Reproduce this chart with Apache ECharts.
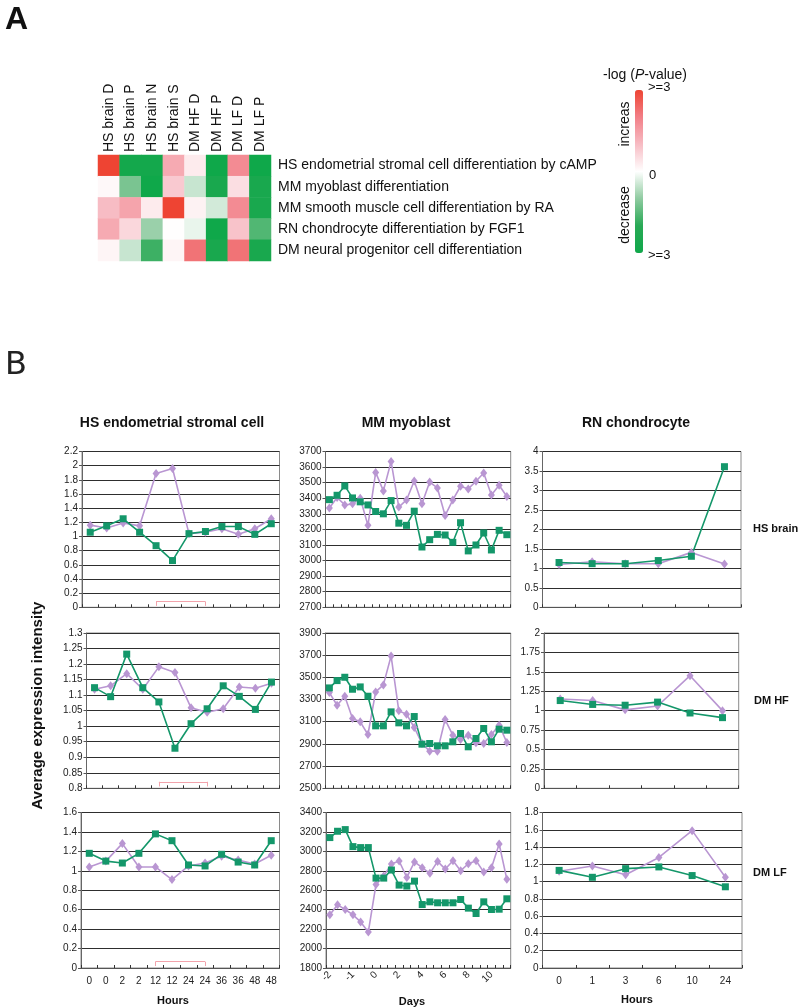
<!DOCTYPE html>
<html><head><meta charset="utf-8">
<script src="https://cdn.jsdelivr.net/npm/echarts@6/dist/echarts.min.js"></script>
<style>html,body{margin:0;padding:0;background:#fff}#c{width:799px;height:1008px}</style>
</head><body><div id="c"></div>
<script>
// ---------- Heatmap (part A) ----------
const hmCols = ['HS brain D','HS brain P','HS brain N','HS brain S','DM HF D','DM HF P','DM LF D','DM LF P'];
const hmRows = ['HS endometrial stromal cell differentiation by cAMP','MM myoblast differentiation','MM smooth muscle cell differentiation by RA','RN chondrocyte differentiation by FGF1','DM neural progenitor cell differentiation'];
const hmRow1 = [3, -2.8, -2.8, 1.3, 0.3, -3, 1.8, -3];
const hmRow2 = [0.1, -1.2, -3, 0.8, -0.5, -2.6, 0.5, -2.6];
const hmRow3 = [1.0, 1.4, 0.3, 3, 0.2, -0.4, 1.8, -2.6];
const hmRow4 = [1.3, 0.6, -0.9, 0.02, -0.2, -3, 0.9, -1.6];
const hmRow5 = [0.15, -0.5, -1.8, 0.15, 2.2, -2.6, 2.2, -2.6];

// ---------- Line panels (part B) ----------
const hoursHS = ['0','0','2','2','12','12','24','24','36','36','48','48'];
const daysMM = ['-2','','','-1','','','0','','','2','','','4','','','6','','','8','','','10','',''];
const hoursRN = ['0','1','3','6','10','24'];

const endoHSbrainGreen  = [1.06,1.15,1.25,1.06,0.87,0.66,1.04,1.07,1.14,1.14,1.03,1.18];
const endoHSbrainPurple = [1.16,1.12,1.19,1.15,1.89,1.96,1.04,1.06,1.11,1.03,1.11,1.25];
const endoDMHFGreen  = [1.124,1.095,1.232,1.124,1.078,0.929,1.008,1.056,1.130,1.096,1.054,1.142];
const endoDMHFPurple = [1.119,1.130,1.169,1.119,1.191,1.173,1.059,1.045,1.056,1.126,1.122,1.138];
const endoDMLFGreen  = [1.18,1.10,1.08,1.18,1.38,1.31,1.06,1.05,1.17,1.09,1.06,1.31];
const endoDMLFPurple = [1.04,1.10,1.28,1.04,1.04,0.91,1.05,1.08,1.15,1.11,1.07,1.16];

const myoHSbrainGreen  = [3391,3419,3479,3402,3377,3357,3315,3300,3385,3240,3226,3317,3087,3134,3168,3164,3117,3243,3062,3100,3177,3068,3194,3166];
const myoHSbrainPurple = [3338,3405,3357,3364,3400,3226,3566,3447,3636,3343,3389,3511,3364,3504,3466,3289,3389,3477,3460,3509,3562,3421,3483,3411];
const myoDMHFGreen  = [3405,3471,3501,3393,3414,3330,3063,3063,3189,3090,3063,3147,2898,2904,2883,2883,2919,2994,2874,2949,3039,2919,3033,3024];
const myoDMHFPurple = [3363,3249,3330,3129,3099,2985,3369,3432,3693,3198,3168,3048,2904,2835,2835,3120,2979,2940,2979,2910,2904,2985,3069,2913];
const myoDMLFGreen  = [3142,3207,3224,3049,3039,3039,2725,2725,2808,2653,2643,2694,2453,2481,2471,2471,2471,2505,2416,2361,2481,2402,2405,2512];
const myoDMLFPurple = [2347,2450,2402,2347,2274,2171,2660,2746,2870,2901,2732,2891,2832,2774,2897,2818,2904,2801,2873,2904,2787,2832,3076,2712];

const chonHSbrainGreen  = [1.15,1.12,1.12,1.20,1.31,3.61];
const chonHSbrainPurple = [1.10,1.17,1.12,1.12,1.41,1.11];
const chonDMHFGreen  = [1.13,1.08,1.07,1.11,0.97,0.91];
const chonDMHFPurple = [1.15,1.13,1.01,1.06,1.45,1.00];
const chonDMLFGreen  = [1.13,1.05,1.15,1.17,1.07,0.94];
const chonDMLFPurple = [1.12,1.18,1.08,1.28,1.59,1.05];

// pink bracket annotation levels on the endometrial panels [line level, end level]
const bracketLevels = [[0.08, 0.02], [0.821, 0.806], [0.065, 0.02]];

// ---------- layout / style ----------
const FONT = "'Liberation Sans', Arial, Helvetica, sans-serif";
const GREEN = '#14976a';
const PURPLE = '#b996d2';
const L = {
  colLeft:  [[82, 86.5, 81], [325.5, 325.5, 326], [542.5, 544, 542.5]],
  colRight: [[279.5, 279.5, 279.5], [510.7, 510.7, 510.7], [741, 738.7, 742]],
  rowTop: [451.5, 633, 812.5],
  rowBottom: [607.3, 788.3, 968]
};

const panels = [
  {row:0,col:0,cats:hoursHS,g:endoHSbrainGreen,p:endoHSbrainPurple,min:0,max:2.2,interval:0.2,bracket:0},
  {row:1,col:0,cats:hoursHS,g:endoDMHFGreen,p:endoDMHFPurple,min:0.8,max:1.3,interval:0.05,bracket:1},
  {row:2,col:0,cats:hoursHS,g:endoDMLFGreen,p:endoDMLFPurple,min:0,max:1.6,interval:0.2,bracket:2},
  {row:0,col:1,cats:daysMM,g:myoHSbrainGreen,p:myoHSbrainPurple,min:2700,max:3700,interval:100},
  {row:1,col:1,cats:daysMM,g:myoDMHFGreen,p:myoDMHFPurple,min:2500,max:3900,interval:200},
  {row:2,col:1,cats:daysMM,g:myoDMLFGreen,p:myoDMLFPurple,min:1800,max:3400,interval:200,rotate:45},
  {row:0,col:2,cats:hoursRN,g:chonHSbrainGreen,p:chonHSbrainPurple,min:0,max:4,interval:0.5},
  {row:1,col:2,cats:hoursRN,g:chonDMHFGreen,p:chonDMHFPurple,min:0,max:2,interval:0.25},
  {row:2,col:2,cats:hoursRN,g:chonDMLFGreen,p:chonDMLFPurple,min:0,max:1.8,interval:0.2}
];

const grids = [], xAxes = [], yAxes = [], series = [];
panels.forEach((pn, i) => {
  const left = L.colLeft[pn.col][pn.row], right = L.colRight[pn.col][pn.row];
  const top = L.rowTop[pn.row], bottom = L.rowBottom[pn.row];
  grids.push({left: left, top: top, width: right - left, height: bottom - top,
    show: true, borderColor: '#8a8a8a', borderWidth: 1, backgroundColor: '#fff'});
  const isBottom = pn.row === 2;
  xAxes.push({type: 'category', gridIndex: i, data: pn.cats, boundaryGap: true,
    axisLine: {show: true, lineStyle: {color: '#555', width: 1}},
    axisTick: {show: true, inside: true, length: 3, interval: 0, lineStyle: {color: '#333'}},
    axisLabel: {show: isBottom, interval: 0, fontSize: 10, color: '#222', fontFamily: FONT,
      margin: pn.rotate ? 5 : 8, rotate: pn.rotate || 0},
    splitLine: {show: false}});
  yAxes.push({type: 'value', gridIndex: i, min: pn.min, max: pn.max, interval: pn.interval,
    axisLine: {show: true, lineStyle: {color: '#666'}},
    axisTick: {show: true, length: 3, lineStyle: {color: '#555'}},
    axisLabel: {fontSize: 10, color: '#222', fontFamily: FONT, margin: 4,
      formatter: function (v) { return String(v); }},
    splitLine: {show: true, lineStyle: {color: '#2e2e2e', width: 1}}});
  const purple = {type: 'line', xAxisIndex: i, yAxisIndex: i, data: pn.p,
    symbol: 'diamond', symbolSize: [7, 9], showAllSymbol: true,
    lineStyle: {color: PURPLE, width: 1.6}, itemStyle: {color: PURPLE},
    animation: false, silent: true, emphasis: {disabled: true}};
  if (pn.bracket !== undefined) {
    const b = bracketLevels[pn.bracket];
    purple.markLine = {silent: true, symbol: ['none', 'none'], label: {show: false}, animation: false,
      lineStyle: {color: '#f2a3ab', width: 1, type: 'solid'}, emphasis: {disabled: true},
      data: [
        [{coord: [4, b[0]]}, {coord: [7, b[0]]}],
        [{coord: [4, b[0]]}, {coord: [4, b[1]]}],
        [{coord: [7, b[0]]}, {coord: [7, b[1]]}]
      ]};
  }
  series.push(purple);
  series.push({type: 'line', xAxisIndex: i, yAxisIndex: i, data: pn.g,
    symbol: 'rect', symbolSize: 7, showAllSymbol: true,
    lineStyle: {color: GREEN, width: 1.6}, itemStyle: {color: GREEN},
    animation: false, silent: true, emphasis: {disabled: true}});
});

// heatmap grid
const hmIdx = panels.length;
grids.push({left: 98, top: 155, width: 173, height: 106, show: false});
xAxes.push({type: 'category', gridIndex: hmIdx, data: hmCols, position: 'top',
  axisLine: {show: false}, axisTick: {show: false}, splitLine: {show: false},
  axisLabel: {rotate: -90, fontSize: 14, color: '#111', margin: 3, fontFamily: FONT, interval: 0}});
yAxes.push({type: 'category', gridIndex: hmIdx, data: hmRows, inverse: true, position: 'right',
  axisLine: {show: false}, axisTick: {show: false}, splitLine: {show: false},
  axisLabel: {fontSize: 14, color: '#111', margin: 7, fontFamily: FONT, interval: 0}});
const hmRowsData = [hmRow1, hmRow2, hmRow3, hmRow4, hmRow5];
const hmData = [];
hmRowsData.forEach((r, ri) => r.forEach((v, ci) => hmData.push([ci, ri, v])));
series.push({type: 'heatmap', xAxisIndex: hmIdx, yAxisIndex: hmIdx, data: hmData,
  itemStyle: {borderWidth: 0}, emphasis: {disabled: true}, animation: false, silent: true});
const hmSeriesIndex = series.length - 1;

function txt(text, x, y, opt) {
  opt = opt || {};
  return {type: 'text', x: x, y: y, rotation: opt.rotation || 0, silent: true,
    style: {text: text, fontSize: opt.size || 14, fontWeight: opt.weight || 'normal',
      fontFamily: opt.family || FONT, fill: opt.color || '#111',
      align: opt.align || 'center', verticalAlign: 'middle', rich: opt.rich}};
}

const graphics = [
  txt('A', 5, 20, {size: 32, weight: 'bold', align: 'left'}),
  txt('B', 5, 366, {size: 32, align: 'left', family: "'DejaVu Sans', sans-serif", color: '#222'}),
  txt('-log ({i|P}-value)', 645, 75, {size: 14, rich: {i: {fontStyle: 'italic', fontSize: 14, fontFamily: FONT, fill: '#111'}}}),
  txt('>=3', 648, 87, {size: 13, align: 'left'}),
  txt('0', 649, 175, {size: 13, align: 'left'}),
  txt('>=3', 648, 255, {size: 13, align: 'left'}),
  txt('increas', 625, 124, {size: 14, rotation: Math.PI / 2}),
  txt('decrease', 625, 215, {size: 14, rotation: Math.PI / 2}),
  txt('HS endometrial stromal cell', 172, 423, {size: 14, weight: 'bold'}),
  txt('MM myoblast', 406, 423, {size: 14, weight: 'bold'}),
  txt('RN chondrocyte', 636, 423, {size: 14, weight: 'bold'}),
  txt('HS brain', 753, 529, {size: 11, weight: 'bold', align: 'left'}),
  txt('DM HF', 754, 701, {size: 11, weight: 'bold', align: 'left'}),
  txt('DM LF', 753, 873, {size: 11, weight: 'bold', align: 'left'}),
  txt('Average expression intensity', 37.5, 705.5, {size: 15, weight: 'bold', rotation: Math.PI / 2}),
  txt('Hours', 173, 1000.5, {size: 11, weight: 'bold'}),
  txt('Days', 412, 1001.5, {size: 11, weight: 'bold'}),
  txt('Hours', 637, 999.5, {size: 11, weight: 'bold'})
];

const chart = echarts.init(document.getElementById('c'), null, {renderer: 'canvas'});
chart.setOption({
  animation: false,
  backgroundColor: '#fff',
  textStyle: {fontFamily: FONT},
  grid: grids, xAxis: xAxes, yAxis: yAxes, series: series,
  visualMap: [{type: 'continuous', min: -3, max: 3, seriesIndex: hmSeriesIndex,
    orient: 'vertical', left: 635, top: 90, itemWidth: 8, itemHeight: 163,
    calculable: false, padding: 0, hoverLink: false, text: null, show: true,
    inRange: {color: ['#0fa84a', '#28a955', '#8fcba0', '#ffffff', '#f7bcc4', '#f27f87', '#ee4433']}}],
  graphic: graphics
});
</script></body></html>
